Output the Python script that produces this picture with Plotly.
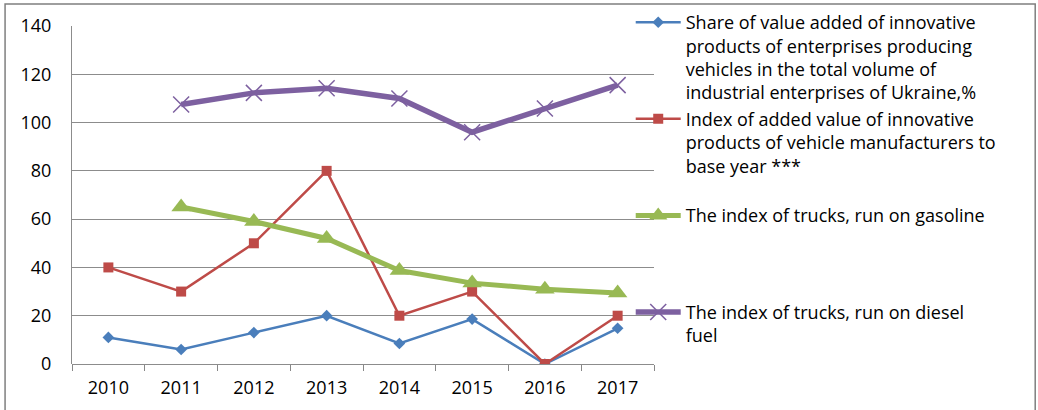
import plotly.graph_objects as go

years = ["2010", "2011", "2012", "2013", "2014", "2015", "2016", "2017"]
share_value_added = [11, 6, 13, 20, 8.5, 18.6, 0, 14.8]
index_added_value = [40, 30, 50, 80, 20, 30, 0, 20]
index_gasoline = [None, 65, 59, 52, 38.7, 33.5, 31, 29.4]
index_diesel = [None, 107.5, 112.3, 114.2, 110, 96, 105.8, 115.5]

names = [
    "Share of value added of innovative<br>products of enterprises producing<br>vehicles in the total volume of<br>industrial enterprises of Ukraine,%",
    "Index of added value of innovative<br>products of vehicle manufacturers to<br>base year ***<br> ",
    "The index of trucks, run on gasoline<br> <br> <br> ",
    "The index of trucks, run on diesel<br>fuel",
]

FONT = "Open Sans, Liberation Sans, sans-serif"

fig = go.Figure()
fig.add_trace(go.Scatter(x=years, y=share_value_added, name=names[0], mode="lines+markers",
                         line=dict(color="#4A7EBB", width=2.5),
                         marker=dict(symbol="diamond", size=9, color="#4A7EBB")))
fig.add_trace(go.Scatter(x=years, y=index_added_value, name=names[1], mode="lines+markers",
                         line=dict(color="#BE4B48", width=2.5),
                         marker=dict(symbol="square", size=10, color="#BE4B48")))
fig.add_trace(go.Scatter(x=years, y=index_gasoline, name=names[2], mode="lines+markers",
                         line=dict(color="#98B954", width=5),
                         marker=dict(symbol="triangle-up", size=17, color="#98B954")))
fig.add_trace(go.Scatter(x=years, y=index_diesel, name=names[3], mode="lines+markers",
                         line=dict(color="#7D60A0", width=5.5),
                         marker=dict(symbol="x-thin-open", size=16, color="#7D60A0",
                                     line=dict(color="#7D60A0", width=1.5))))

fig.update_layout(
    width=1038, height=410,
    margin=dict(l=72, r=384, t=26, b=46, autoexpand=False),
    paper_bgcolor="white", plot_bgcolor="white",
    font=dict(family=FONT, size=18, color="#000000"),
    legend=dict(x=0.96, y=1.065, xanchor="left", yanchor="top", valign="top",
                font=dict(family=FONT, size=18, color="#000000"),
                bgcolor="rgba(0,0,0,0)", itemwidth=45, tracegroupgap=0,
                maxheight=400),
    xaxis=dict(type="category", tickson="boundaries", ticks="outside", ticklen=6,
               tickcolor="#878787", showgrid=False, showline=False, zeroline=False,
               tickfont=dict(size=18), ticklabelstandoff=11, range=[-0.5, 7.5]),
    yaxis=dict(range=[0, 140], tickvals=[0, 20, 40, 60, 80, 100, 120, 140],
               showgrid=True, gridcolor="#8C8C8C", gridwidth=1,
               zeroline=True, zerolinecolor="#8C8C8C", zerolinewidth=1,
               showline=True, linecolor="#8C8C8C", linewidth=1,
               ticks="", ticklabelstandoff=16, tickfont=dict(size=18)),
    shapes=[dict(type="rect", xref="paper", yref="paper",
                 x0=-0.115, x1=1.655, y0=-0.3, y1=1.065,
                 line=dict(color="#7F7F7F", width=1.5), layer="below")],
)

fig.write_html("out.html", config={"displayModeBar": False},
               post_script="document.body.style.margin='0';")
